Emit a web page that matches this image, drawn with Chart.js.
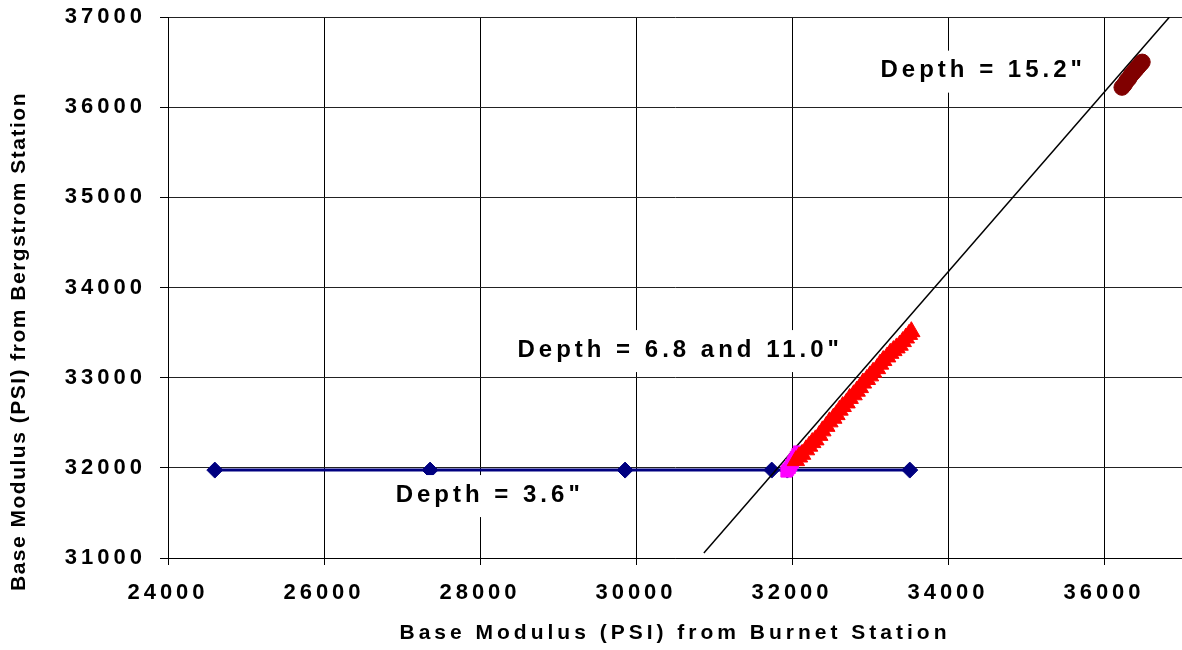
<!DOCTYPE html>
<html>
<head>
<meta charset="utf-8">
<script src="https://cdn.jsdelivr.net/npm/chart.js@4.4.1/dist/chart.umd.min.js"></script>
<style>
  html, body { margin: 0; padding: 0; background: #fff; overflow: hidden; }
  #wrap { width: 1182px; height: 650px; }
</style>
</head>
<body>
<div id="wrap"><canvas id="c" width="1182" height="650"></canvas></div>
<script>
// Base modulus back-calculated at each depth: Burnet station (x) vs Bergstrom station (y), PSI
const depth36X = [24600, 27360, 29860, 31740, 31940, 33510];
const depth36Y = [31975, 31975, 31975, 31975, 31975, 31975];

const depth68X = [31930, 31950, 31970, 31990, 32010, 32030, 32050, 32070, 32090];
const depth68Y = [31960, 31980, 32000, 32030, 32060, 32090, 32120, 32150, 32180];

const depth110X = [32050, 32090, 32130, 32180, 32220, 32260, 32300, 32350, 32390, 32440,
                   32480, 32530, 32570, 32610, 32650, 32700, 32740, 32790, 32830, 32870,
                   32910, 32960, 33000, 33040, 33090, 33130, 33170, 33220, 33260, 33300,
                   33340, 33380, 33420, 33460, 33500, 33530];
const depth110Y = [32080, 32120, 32150, 32200, 32240, 32280, 32310, 32360, 32410, 32460,
                   32510, 32550, 32590, 32640, 32680, 32720, 32770, 32810, 32850, 32890,
                   32940, 32980, 33020, 33060, 33100, 33150, 33190, 33230, 33270, 33300,
                   33330, 33360, 33400, 33440, 33480, 33510];

const depth152X = [36230, 36260, 36290, 36320, 36350, 36380, 36410, 36440, 36470, 36490];
const depth152Y = [36220, 36250, 36290, 36320, 36360, 36390, 36420, 36450, 36480, 36500];

// reference line
const refLineX = [30870, 36840];
const refLineY = [31055, 37000];

// axis ranges and tick values
const xRange = [24000, 37000];
const yRange = [31000, 37000];
const xTickValues = [24000, 26000, 28000, 30000, 32000, 34000, 36000];
const yTickValues = [31000, 32000, 33000, 34000, 35000, 36000, 37000];

// depth callouts and where they sit (data units)
const calloutText = ['Depth = 15.2"', 'Depth = 6.8 and 11.0"', 'Depth = 3.6"'];
const calloutX = [34426, 30541, 28099];
const calloutY = [36405, 33306, 31698];

const FAMILY = '"Liberation Sans", Arial, Helvetica, sans-serif';

function toPoints(xs, ys) {
  return xs.map((v, i) => ({ x: v, y: ys[i] }));
}

// per-scale letter spacing for tick labels and titles
const SPACING = {
  x: { ticks: 4, title: 4, shift: 0 },
  y: { ticks: 4, title: 1.5, shift: 54 }
};

function withSpacing(fn, px, dy) {
  return function (...args) {
    const ctx = this.ctx;
    ctx.save();
    ctx.letterSpacing = px + 'px';
    if (dy) ctx.translate(0, dy);
    fn.apply(this, args);
    ctx.restore();
  };
}

const spacedText = {
  id: 'spacedText',
  beforeDraw(chart) {
    for (const s of Object.values(chart.scales)) {
      if (s._spaced) continue;
      s._spaced = true;
      const cfg = SPACING[s.id];
      s.drawLabels = withSpacing(s.drawLabels, cfg.ticks, 0);
      s.drawTitle = withSpacing(s.drawTitle, cfg.title, cfg.shift);
    }
  }
};

const depthCallouts = {
  id: 'depthCallouts',
  afterDatasetsDraw(chart) {
    const { ctx, scales: { x, y } } = chart;
    ctx.save();
    ctx.font = 'bold 24px ' + FAMILY;
    ctx.letterSpacing = '4px';
    ctx.textAlign = 'center';
    ctx.textBaseline = 'middle';
    calloutText.forEach((t, i) => {
      const px = x.getPixelForValue(calloutX[i]);
      const py = y.getPixelForValue(calloutY[i]);
      const w = ctx.measureText(t).width;
      ctx.fillStyle = '#fff';
      ctx.fillRect(px - w / 2 - 10, py - 20, w + 24, 42);
      ctx.fillStyle = '#000';
      ctx.fillText(t, px + 2, py);
    });
    ctx.restore();
  }
};

new Chart(document.getElementById('c'), {
  type: 'scatter',
  data: {
    datasets: [
      {
        label: 'Depth 15.2',
        data: toPoints(depth152X, depth152Y),
        pointStyle: 'circle',
        pointRadius: 8,
        backgroundColor: '#800000',
        borderColor: '#800000',
        borderWidth: 1,
        order: 1
      },
      {
        label: 'Depth 11.0',
        data: toPoints(depth110X, depth110Y),
        pointStyle: 'triangle',
        pointRadius: 10,
        backgroundColor: '#ff0000',
        borderColor: '#ff0000',
        borderWidth: 1,
        order: 2
      },
      {
        label: 'Depth 6.8',
        data: toPoints(depth68X, depth68Y),
        pointStyle: 'rect',
        pointRadius: 8,
        backgroundColor: '#ff00ff',
        borderColor: '#ff00ff',
        borderWidth: 1,
        order: 3
      },
      {
        label: 'Equality',
        data: toPoints(refLineX, refLineY),
        showLine: true,
        pointRadius: 0,
        borderColor: '#000',
        borderWidth: 1.5,
        order: 4
      },
      {
        label: 'Depth 3.6',
        data: toPoints(depth36X, depth36Y),
        showLine: true,
        pointStyle: 'rectRot',
        pointRadius: 8,
        backgroundColor: '#000080',
        borderColor: '#000080',
        pointBorderWidth: 1,
        borderWidth: 3,
        order: 5
      }
    ]
  },
  options: {
    responsive: false,
    animation: false,
    layout: { autoPadding: false, padding: { top: 17, right: 0, bottom: 0, left: 0 } },
    plugins: {
      legend: { display: false },
      tooltip: { enabled: false }
    },
    scales: {
      x: {
        type: 'linear',
        min: xRange[0],
        max: xRange[1],
        afterBuildTicks(s) { s.ticks = xTickValues.map(v => ({ value: v })); },
        ticks: {
          autoSkip: false,
          maxRotation: 0,
          padding: 15,
          color: '#000',
          font: { family: FAMILY, size: 22, weight: 'bold' },
          callback: v => String(v)
        },
        grid: { color: '#000', lineWidth: 1, tickLength: 7, tickColor: '#000' },
        border: { color: '#000', width: 1 },
        title: {
          display: true,
          text: 'Base Modulus (PSI) from Burnet Station',
          color: '#000',
          font: { family: FAMILY, size: 21, weight: 'bold' },
          padding: { top: 4, bottom: 4 }
        },
        afterFit(s) {
          s.height = 92;
          s.paddingLeft = 0;
          s.paddingRight = 0;
        }
      },
      y: {
        type: 'linear',
        min: yRange[0],
        max: yRange[1],
        afterBuildTicks(s) { s.ticks = yTickValues.map(v => ({ value: v })); },
        ticks: {
          padding: 14,
          color: '#000',
          font: { family: FAMILY, size: 22, weight: 'bold' },
          callback: v => String(v)
        },
        grid: { color: '#222', lineWidth: 1, tickLength: 8, tickColor: '#000' },
        border: { color: '#000', width: 1 },
        title: {
          display: true,
          text: 'Base Modulus (PSI) from Bergstrom Station',
          color: '#000',
          font: { family: FAMILY, size: 21, weight: 'bold' },
          padding: { top: 7, bottom: 4 }
        },
        afterFit(s) {
          s.width = 168;
          s.paddingTop = 0;
          s.paddingBottom = 0;
        }
      }
    }
  },
  plugins: [spacedText, depthCallouts]
});
</script>
</body>
</html>
